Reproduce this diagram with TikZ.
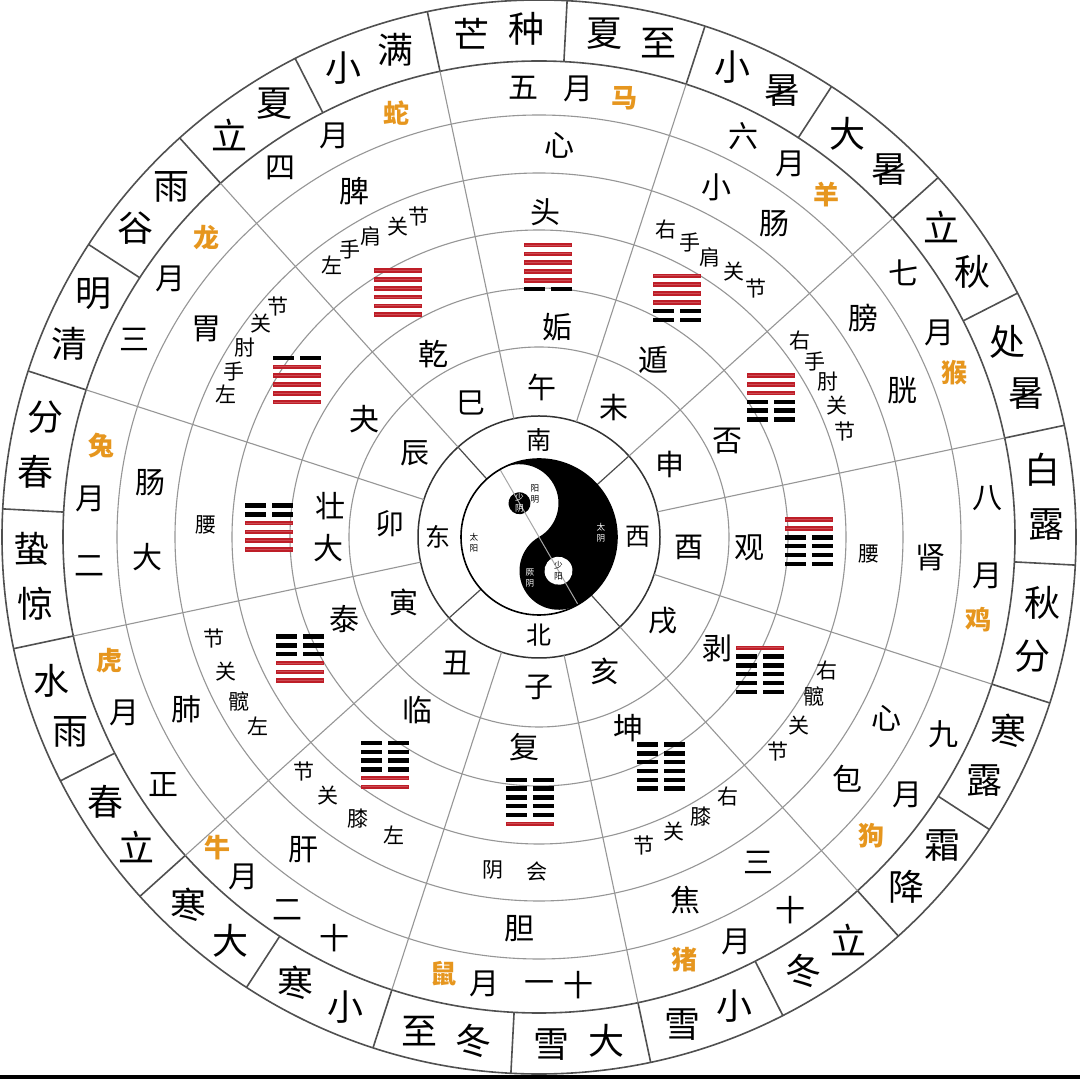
\documentclass[tikz,border=0pt]{standalone}
\usepackage{fontspec}
\newfontfamily\cjk{Noto Sans CJK SC}
\usetikzlibrary{calc}

\definecolor{ringgray}{RGB}{150,150,150}
\definecolor{rimgray}{RGB}{80,80,80}
\definecolor{guared}{RGB}{190,30,40}
\definecolor{zodiac}{RGB}{230,150,30}

\begin{document}
\begin{tikzpicture}[
        x=0.5pt, y=0.5pt,
        every node/.style={inner sep=0pt, font=\cjk},
        jieqi/.style={font=\cjk\fontsize{18}{18}\selectfont},
        yue/.style={font=\cjk\fontsize{15}{15}\selectfont},
        shengxiao/.style={font=\cjk\bfseries\fontsize{13}{13}\selectfont, text=zodiac},
        zang/.style={font=\cjk\fontsize{15}{15}\selectfont},
        guanjie/.style={font=\cjk\fontsize{10.5}{10.5}\selectfont},
        guaming/.style={font=\cjk\fontsize{15}{15}\selectfont},
        zhi/.style={font=\cjk\fontsize{14.5}{14.5}\selectfont},
        fang/.style={font=\cjk\fontsize{12.5}{12.5}\selectfont},
        yytext/.style={font=\cjk\fontsize{4.3}{5.5}\selectfont, align=center},
        ring/.style={draw=ringgray, line width=0.55pt},
        rim/.style={draw=rimgray, line width=0.8pt},
        yang/.style={draw=guared, line width=2.3pt},
        yanglight/.style={draw=guared!80!white, line width=0.5pt},
        yin/.style={draw=black, line width=2.2pt}
    ]

    % page and bottom bar
    \useasboundingbox (-539,-542) rectangle (541,537);
    \fill[white] (-539,-542) rectangle (541,537);
    \fill[black] (-539,-542) rectangle (541,-538);

    % rings
    \draw[rim] (0,0) circle (537);
    \draw[rim] (0,0) circle (476);
    \foreach \r in {422,364,307,249,190}
        \draw[ring] (0,0) circle (\r);
    \draw[black!80, line width=0.75pt] (0,0) circle (121);

    % spokes
    \foreach \k in {0,...,23}
        \draw[rim] (12+15*\k:476) -- (12+15*\k:537);
    \foreach \k in {0,...,11}
        \draw[ring] (12+30*\k:121) -- (12+30*\k:476);
    \foreach \a in {42,132,222,312}
        \draw[black!70, line width=0.6pt] (\a:78) -- (\a:121);

    % taiji
    \begin{scope}[rotate=30]
        \fill[white] (0,0) circle (78);
        \fill[black] (0,78) arc[start angle=90, end angle=-90, radius=78]
            arc[start angle=-90, end angle=-270, radius=39]
            arc[start angle=-90, end angle=90, radius=39] -- cycle;
        \fill[black] (0,39) circle (11);
        \fill[white] (0,-39) circle (14);
        \draw[gray!70, line width=0.5pt] (0,78) -- (0,-78);
    \end{scope}
    \draw[black, line width=0.8pt] (0,0) circle (78);

    \node[yytext] (yangming) at (-4,43) {阳\\明};
    \node[yytext, text=white] (shaoyin) at (120:39) {少\\阴};
    \node[yytext] (taiyang) at (-65,-6) {太\\阳};
    \node[yytext, text=white] (taiyin) at (62,4) {太\\阴};
    \node[yytext, text=white] (jueyin) at (-9,-41) {厥\\阴};
    \node[yytext] (shaoyang) at (-60:39) {少\\阳};

    % directions
    \node[fang] (nan) at (90:97) {南};
    \node[fang] (xi) at (0:99) {西};
    \node[fang] (bei) at (-90:98) {北};
    \node[fang] (dong) at (180:101) {东};

    % solar terms
    \foreach \ang/\one/\two [count=\n] in {94.5/芒/种, 79.5/夏/至, 64.5/小/暑,
            49.5/大/暑, 34.5/立/秋, 19.5/处/暑, 4.5/白/露, -10.5/秋/分,
            -25.5/寒/露, -40.5/霜/降, -55.5/立/冬, -70.5/小/雪, -85.5/大/雪,
            -100.5/冬/至, -115.5/小/寒, -130.5/大/寒, -145.5/立/春,
            -160.5/雨/水, -175.5/惊/蛰, 169.5/春/分, 154.5/清/明,
            139.5/谷/雨, 124.5/立/夏, 109.5/小/满} {
        \node[jieqi] (jq\n a) at (\ang+3.1:508) {\one};
        \node[jieqi] (jq\n b) at (\ang-3.1:508) {\two};
    }

    % months
    \foreach \ang/\txt [count=\n] in {92/五, 85/月, 63/六, 56/月, 36/七, 27/月,
            5/八, -5/月, -26/九, -35/月, -56/十, -64/月, -85/十, -90/一,
            -97/月, -117/十, -124/二, -131/月, -146.6/正, -157/月,
            -176.3/二, -184.8/月, 154/三, 145/月, 125/四, 117/月}
        \node[yue] (yue\n) at (\ang:450) {\txt};
    \foreach \ang/\txt [count=\n] in {79/马, 50/羊, 21.6/猴, -10.7/鸡, -42/狗,
            -71/猪, -102.4/鼠, -136/牛, -164/虎, -191.8/兔, 138/龙, 108.6/蛇}
        \node[shengxiao] (sx\n) at (\ang:447) {\txt};

    % organs
    \foreach \ang/\txt [count=\n] in {87/心, 63/小, 53/肠, 34/膀, 22/胱, -3/肾,
            -27.5/心, -38/包, -56/三, -68/焦, -92.8/胆, -127/肝, -154/肺,
            183/大, 172/肠, 148/胃, 118/脾}
        \node[zang] (zang\n) at (\ang:392) {\txt};

    % joints
    \node[zang] (tou) at (88.8:325) {头};
    \foreach \ang/\rad/\txt [count=\n] in {127.3/342/左, 123.4/344/手,
            119.2/344/肩, 114.4/341/关, 110.6/342/节,
            67.6/333/右, 62.8/331/手, 58.6/328/肩, 53.7/329/关, 48.8/330/节,
            37/327/右, 32.5/327/手, 28.2/328/肘, 23.8/326/关, 19/324/节,
            -3/330/腰,
            -24.9/318/右, -30.2/318/髋, -36/321/关, -42/321/节,
            -54/321/右, -60/323/膝, -65.4/324/关, -71.2/326/节,
            -90.3/335/会, -97.9/336/阴,
            -115.9/332/左, -122.7/335/膝, -129.2/334/关, -135/332/节,
            -146/339/左, -151.2/342/髋, -156.7/341/关, -162.6/341/节,
            178/333/腰,
            155.4/344/左, 151.6/347/手, 147.2/350/肘, 142.5/350/关, 138.6/348/节}
        \node[guanjie] (gj\n) at (\ang:\rad) {\txt};

    % hexagram names
    \foreach \ang/\txt [count=\n] in {85/姤, 57/遁, 27/否, -3/观, -32/剥,
            -65/坤, -94/复, -125/临, -157/泰, 183/大, 171.5/壮, 146/夬, 120/乾}
        \node[guaming] (gm\n) at (\ang:211) {\txt};

    % branches
    \foreach \ang/\txt [count=\n] in {89/午, 60/未, 29/申, -4/酉, -34/戌,
            -64/亥, -90/子, -123/丑, -154/寅, 175/卯, 146/辰, 117/巳}
        \node[zhi] (zhi\n) at (\ang:150) {\txt};

    % hexagrams, lines counted from the bottom
    \foreach \ang/\rad [count=\j from 0] in {120/282, 88/270, 60/276, 31/271,
            -1/270, -31/258, -62/260, -92/265, -124/275, -153/268, 178/270,
            147/288} {
        \coordinate (gua\j) at (\ang:\rad);
        \foreach \i in {1,...,6} {
            \pgfmathtruncatemacro\isyang{(\j<=6)*(\i>\j)+(\j>6)*(\i<=\j-6)}
            \pgfmathsetmacro\ly{-22+8.8*(\i-1)}
            \ifnum\isyang=1
                \draw[yang] ([shift={(-24,\ly)}]gua\j) -- ++(48,0);
                \draw[yanglight] ([shift={(-23,\ly)}]gua\j) -- ++(46,0);
            \else
                \draw[yin] ([shift={(-24,\ly)}]gua\j) -- ++(21,0) ++(6,0) -- ++(21,0);
            \fi
        }
    }

\end{tikzpicture}
\end{document}
